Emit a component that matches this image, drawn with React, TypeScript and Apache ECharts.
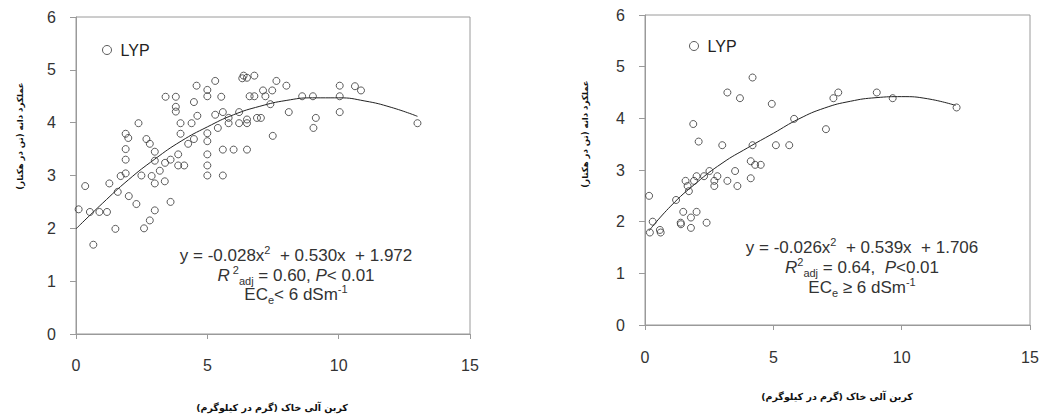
import React, { useEffect, useRef } from "react";
import * as echarts from "echarts";

// Soil organic carbon (g/kg) vs grain yield (t/ha), ECe < 6 dS/m
const leftPoints: number[][] = [
  [0.1, 2.36], [0.35, 2.8], [0.53, 2.31], [0.66, 1.69], [0.89, 2.31], [1.18, 2.31], [1.27, 2.85],
  [1.5, 1.99], [1.59, 2.69], [1.7, 2.99], [1.89, 3.04], [1.89, 3.3], [1.89, 3.5], [1.89, 3.79],
  [1.99, 3.71], [2.01, 2.61], [2.3, 2.46], [2.38, 3.99], [2.49, 3.0], [2.59, 2.0], [2.68, 3.69],
  [2.81, 3.6], [2.81, 2.15], [2.88, 2.99], [3.0, 3.45], [3.0, 3.28], [3.0, 2.85], [3.0, 2.34],
  [3.19, 3.09], [3.38, 2.89], [3.39, 3.24], [3.6, 2.5], [3.6, 3.3], [3.41, 4.49], [3.8, 4.49],
  [3.8, 4.3], [3.8, 4.21], [3.89, 3.4], [3.89, 3.19], [3.98, 3.99], [3.98, 3.79], [4.12, 3.19],
  [4.27, 3.6], [4.4, 3.99], [4.49, 4.39], [4.49, 3.69], [4.59, 4.7], [4.62, 4.13], [5.0, 4.62],
  [5.0, 4.5], [5.0, 3.8], [5.0, 3.65], [5.0, 3.4], [5.0, 3.19], [5.0, 3.0], [5.3, 4.79],
  [5.3, 4.15], [5.4, 3.9], [5.53, 4.49], [5.59, 4.2], [5.59, 3.49], [5.59, 3.0], [5.81, 4.09],
  [5.81, 3.99], [6.0, 3.49], [6.21, 4.2], [6.21, 3.99], [6.33, 4.84], [6.38, 4.89], [6.51, 4.85],
  [6.79, 4.89], [6.61, 4.5], [6.79, 4.5], [6.51, 4.06], [6.51, 3.99], [6.51, 3.49], [6.89, 4.09],
  [7.04, 4.09], [7.12, 4.61], [7.21, 4.5], [7.4, 4.35], [7.47, 4.61], [7.49, 3.75], [7.63, 4.79],
  [8.01, 4.7], [8.1, 4.2], [8.61, 4.5], [9.02, 4.5], [9.13, 4.09], [9.04, 3.9], [10.04, 4.7],
  [10.04, 4.5], [10.04, 4.2], [10.62, 4.69], [10.85, 4.61], [13.0, 3.99],
];

// ECe >= 6 dS/m
const rightPoints: number[][] = [
  [0.16, 2.5], [0.19, 1.79], [0.3, 2.0], [0.58, 1.84], [0.61, 1.79], [1.21, 2.42], [1.39, 1.98],
  [1.4, 1.95], [1.49, 2.19], [1.58, 2.79], [1.66, 2.69], [1.71, 2.59], [1.79, 1.88], [1.79, 2.08],
  [1.88, 3.89], [1.91, 2.79], [2.01, 2.88], [2.01, 2.19], [2.09, 3.55], [2.3, 2.88], [2.4, 1.98],
  [2.51, 2.98], [2.7, 2.79], [2.7, 2.69], [2.82, 2.88], [3.01, 3.48], [3.21, 4.5], [3.21, 2.79],
  [3.51, 2.98], [3.6, 2.69], [3.7, 4.39], [4.12, 3.17], [4.12, 2.84], [4.19, 4.79], [4.19, 3.48],
  [4.29, 3.1], [4.51, 3.1], [4.94, 4.28], [5.1, 3.48], [5.62, 3.48], [5.81, 3.99], [7.05, 3.79],
  [7.34, 4.39], [7.53, 4.5], [9.03, 4.5], [9.65, 4.39], [12.14, 4.21],
];

// fitted curves
const leftFit: number[][] = [
  [0, 1.99], [1, 2.47], [2, 2.92], [3, 3.31], [4, 3.65], [5, 3.92], [6, 4.15], [7, 4.31],
  [8, 4.42], [9, 4.47], [10, 4.47], [11, 4.41], [12, 4.29], [13, 4.12],
];
const rightFit: number[][] = [
  [0.15, 1.82], [1, 2.3], [2, 2.75], [3, 3.13], [4, 3.43], [5, 3.71], [6, 3.99], [7, 4.2],
  [8, 4.33], [9, 4.4], [10, 4.42], [11, 4.38], [12.1, 4.25],
];

const seriesName = "LYP";
const xAxisName = "کربن آلی خاک (گرم در کیلوگرم)\u200F";
const yAxisName = "عملکرد دانه (تن در هکتار)\u200F";
const leftEq = [
  "{n|y = -0.028x}{sup|2}{n|  + 0.530x  + 1.972}",
  "{i|R}{sup| 2}{sub|adj}{n| = 0.60, }{i|P}{n|< 0.01}",
  "{n|EC}{sub|e}{n|< 6 dSm}{sup|-1}",
];
const rightEq = [
  "{n|y = -0.026x}{sup|2}{n|  + 0.539x  + 1.706}",
  "{i|R}{sup|2}{sub|adj}{n| = 0.64,  }{i|P}{n|<0.01}",
  "{n|EC}{sub|e}{n| ≥ 6 dSm}{sup|-1}",
];

const FONT = "'Liberation Sans', Arial, sans-serif";
const FA_FONT = "'DejaVu Sans', sans-serif";
const AXIS_COLOR = "#9a9a9a";
const TEXT_COLOR = "#333";

const rich = {
  n: { fontSize: 17, fontFamily: FONT, fill: TEXT_COLOR, color: TEXT_COLOR, lineHeight: 22 },
  i: { fontSize: 17, fontFamily: FONT, fontStyle: "italic", fill: TEXT_COLOR, color: TEXT_COLOR, lineHeight: 22 },
  sup: { fontSize: 11, fontFamily: FONT, fill: TEXT_COLOR, color: TEXT_COLOR, lineHeight: 14, verticalAlign: "top" },
  sub: { fontSize: 11, fontFamily: FONT, fill: TEXT_COLOR, color: TEXT_COLOR, lineHeight: 12, verticalAlign: "bottom" },
};

function eqTexts(lines: string[], cx: number, ys: number[]) {
  return lines.map((t, k) => ({
    type: "text",
    x: cx,
    y: ys[k],
    style: { text: t, rich, align: "center", verticalAlign: "middle", fill: TEXT_COLOR },
  }));
}

function xAxisCfg(gridIndex: number, margin: number) {
  return {
    type: "value",
    gridIndex,
    min: 0,
    max: 15,
    interval: 5,
    axisLine: { show: true, lineStyle: { color: AXIS_COLOR, width: 1 } },
    axisTick: { show: true, length: 5, lineStyle: { color: AXIS_COLOR } },
    axisLabel: { fontSize: 16, fontFamily: FONT, color: TEXT_COLOR, margin },
    splitLine: { show: false },
  };
}
function yAxisCfg(gridIndex: number) {
  return {
    type: "value",
    gridIndex,
    min: 0,
    max: 6,
    interval: 1,
    axisLine: { show: true, lineStyle: { color: AXIS_COLOR, width: 1 } },
    axisTick: { show: true, length: 6, lineStyle: { color: AXIS_COLOR } },
    axisLabel: { fontSize: 16, fontFamily: FONT, color: TEXT_COLOR, margin: 20 },
    splitLine: { show: false },
  };
}

const scatterStyle = { color: "rgba(255,255,255,0)", borderColor: "#333", borderWidth: 1 };

function nameText(x: number, y: number, size: number, rotated: boolean, text: string) {
  return {
    type: "text", x, y, rotation: rotated ? Math.PI / 2 : 0,
    style: { text, fontFamily: FA_FONT, fontWeight: "bold", fontSize: size, fill: "#111", align: "center", verticalAlign: "middle" },
  };
}

export default function App() {
  const ref = useRef<HTMLDivElement>(null);
  useEffect(() => {
    if (!ref.current) return;
    const chart = echarts.init(ref.current, null, { renderer: "svg" });
    chart.setOption({
      animation: false,
      backgroundColor: "#fff",
      grid: [
        { left: 76, top: 17, right: 572, bottom: 83, show: true, borderColor: AXIS_COLOR, borderWidth: 1 },
        { left: 645, top: 15, right: 12, bottom: 92, show: true, borderColor: AXIS_COLOR, borderWidth: 1 },
      ],
      xAxis: [xAxisCfg(0, 23), xAxisCfg(1, 24)],
      yAxis: [yAxisCfg(0), yAxisCfg(1)],
      legend: [
        {
          left: 102, top: 42, padding: 0, itemWidth: 9, itemHeight: 9, data: [seriesName],
          itemStyle: scatterStyle,
          textStyle: { fontSize: 16, fontFamily: FONT, color: "#222", padding: [0, 0, 0, 4] },
        },
        {
          left: 689, top: 38, padding: 0, itemWidth: 9, itemHeight: 9, data: [seriesName],
          itemStyle: scatterStyle,
          textStyle: { fontSize: 16, fontFamily: FONT, color: "#222", padding: [0, 0, 0, 4] },
        },
      ],
      series: [
        {
          name: "fitLeft", type: "line", xAxisIndex: 0, yAxisIndex: 0, data: leftFit, smooth: true,
          showSymbol: false, lineStyle: { color: "#222", width: 1 }, z: 1, silent: true,
        },
        {
          name: "fitRight", type: "line", xAxisIndex: 1, yAxisIndex: 1, data: rightFit, smooth: true,
          showSymbol: false, lineStyle: { color: "#222", width: 1 }, z: 1, silent: true,
        },
        {
          name: seriesName, type: "scatter", xAxisIndex: 0, yAxisIndex: 0, data: leftPoints,
          symbol: "circle", symbolSize: 7, itemStyle: scatterStyle, z: 2,
        },
        {
          name: seriesName, type: "scatter", xAxisIndex: 1, yAxisIndex: 1, data: rightPoints,
          symbol: "circle", symbolSize: 7, itemStyle: scatterStyle, z: 2,
        },
      ],
      graphic: [
        nameText(20, 136, 8.5, true, yAxisName),
        nameText(585, 134, 8.5, true, yAxisName),
        nameText(272, 407, 9.5, false, xAxisName),
        nameText(837, 396, 9.5, false, xAxisName),
        ...eqTexts(leftEq, 296, [255, 275, 294]),
        ...eqTexts(rightEq, 862, [247, 267, 287]),
      ],
    });
    return () => chart.dispose();
  }, []);
  return <div ref={ref} style={{ position: "fixed", left: 0, top: 0, width: 1042, height: 417 }} />;
}
